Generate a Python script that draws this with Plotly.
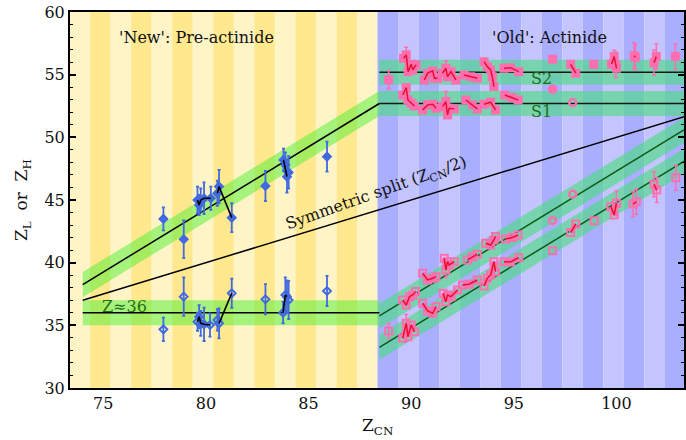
import plotly.graph_objects as go

FONT = "DejaVu Serif"

# ---- axes ----
x_range = [73.38, 103.29]
y_range = [30, 60]
x_ticks = [75, 80, 85, 90, 95, 100]
y_ticks = [30, 35, 40, 45, 50, 55, 60]

# ---- background stripes / regions ----
stripe_first_edge = 73.36
stripe_count = 31
region_boundary = 88.36
yellow_light, yellow_dark = "#fff4c6", "#ffe88e"
blue_light, blue_dark = "#c4c4ff", "#aaaeff"

# ---- model lines ----
model_start = 74.0
model_boundary = 88.45
model_end = 103.8
S1 = 52.7
S2 = 55.2
Z_light_pre = 36.0
band_half = 1.0

# ---- 'New' pre-actinide data (blue) ----
pre_H_x = [77.93, 78.92, 79.59, 79.67, 79.75, 79.91, 80.24, 80.56, 80.64, 81.26, 82.9, 83.78, 83.87, 83.95, 84.03, 85.9]
pre_H_y = [43.49, 41.87, 45.0, 44.6, 45.0, 45.14, 45.14, 45.54, 46.07, 43.59, 46.12, 48.2, 47.8, 46.86, 47.2, 48.46]
pre_H_err = [0.92, 1.5, 1.06, 0.8, 0.93, 1.26, 0.93, 1.0, 1.33, 1.16, 1.2, 0.9, 1.0, 1.26, 1.3, 1.2]
pre_H_chain = [-1, -1, 0, 0, 0, 0, 0, 1, 1, 1, -1, 2, -1, 2, -1, -1]

pre_L_x = [77.93, 78.92, 79.59, 79.67, 79.75, 79.91, 80.2, 80.56, 80.64, 81.26, 82.9, 83.76, 83.87, 83.95, 84.03, 85.9]
pre_L_y = [34.68, 37.29, 35.29, 35.69, 35.16, 35.08, 35.03, 35.43, 35.16, 37.56, 37.08, 36.01, 37.42, 37.29, 37.02, 37.74]
pre_L_err = [0.93, 1.53, 0.73, 0.93, 1.0, 1.33, 0.93, 0.86, 1.2, 1.16, 1.21, 0.86, 1.4, 1.3, 1.53, 1.2]
pre_L_chain = [-1, -1, 0, 0, 0, 0, 0, -1, 1, 1, -1, 2, 2, 2, -1, -1]

# ---- 'Old' actinide data (pink): heavy fragments ----
act_H_x = [89.63, 89.76, 89.85, 90.0, 90.08, 90.24,
           90.64, 90.8, 91.05, 91.13, 91.29,
           91.53, 91.69, 91.77, 91.94, 92.18,
           92.58, 92.9, 93.22,
           93.55, 93.71, 93.87, 93.95, 94.03,
           94.52, 94.84, 95.24,
           89.59, 89.76, 89.84, 90.0, 90.16,
           90.56, 90.8, 91.05, 91.21,
           91.53, 91.69, 91.77, 91.85, 92.1,
           92.66, 92.98, 93.22,
           93.55, 93.87, 94.11,
           94.56, 94.92, 95.21,
           97.77, 98.02,
           99.76, 99.89, 99.97, 100.0,
           100.86, 100.92,
           101.83, 101.94,
           88.9, 96.89, 98.89, 102.87]
act_H_y = [56.31, 56.58, 55.24, 55.83, 55.38, 55.78,
           54.58, 55.12, 55.3, 54.72, 54.72,
           55.12, 55.51, 54.84, 55.24, 54.58,
           54.98, 54.84, 54.72,
           56.04, 55.64, 55.38, 54.84, 54.05,
           55.51, 55.56, 55.24,
           53.38, 53.97, 52.98, 52.72, 52.5,
           52.19, 52.59, 52.64, 52.32,
           52.45, 52.85, 51.79, 52.32, 52.27,
           52.98, 52.59, 52.27,
           52.64, 52.8, 52.19,
           53.38, 53.17, 52.98,
           55.83, 55.12,
           55.86, 56.44, 55.78, 55.51,
           56.5, 56.39,
           55.96, 56.44,
           54.6, 56.23, 55.83, 56.44]
act_H_err = [0, 0.6, 0, 0, 0, 0,
             0, 0, 0, 0, 0,
             0, 0.6, 0, 0, 0,
             0, 0, 0,
             0, 0, 0, 0, 0,
             0, 0, 0,
             0, 0, 0, 0, 0,
             0, 0, 0, 0,
             0, 0.8, 0, 0, 0,
             0, 0, 0,
             0, 0, 0,
             0, 0, 0,
             0, 0,
             0, 0.5, 1.0, 0,
             1.05, 1.0,
             1.0, 1.0,
             0.75, 0, 0, 1.0]
act_H_chain = [1, 1, 1, 1, 1, 1,
               2, 2, 2, 2, 2,
               3, 3, 3, 3, 3,
               4, 4, 4,
               5, 5, 5, 5, 5,
               6, 6, 6,
               7, 7, 7, 7, 7,
               8, 8, 8, 8,
               9, 9, 9, 9, 9,
               10, 10, 10,
               11, 11, 11,
               12, 12, 12,
               13, 13,
               14, 14, 14, 14,
               15, 15,
               16, 16,
               -1, -1, -1, -1]

# ---- 'Old' actinide data (pink): light fragments ----
act_L_x = [89.59, 89.76, 89.92, 90.08, 90.21,
           90.56, 90.8, 91.05, 91.21,
           91.61, 91.69, 91.77, 91.85, 92.1,
           92.74, 92.98, 93.22,
           93.63, 93.87, 94.03, 94.11,
           94.6, 94.92, 95.21,
           89.59, 89.76, 89.84, 90.0, 90.16,
           90.56, 90.8, 91.05, 91.21,
           91.56, 91.69, 91.77, 91.94, 92.26,
           92.5, 92.82, 93.22,
           93.55, 93.71, 93.87, 94.03, 94.11,
           94.52, 94.84, 95.24,
           97.77, 98.02,
           99.73, 99.89, 100.0,
           100.81, 100.97,
           101.83, 101.96,
           88.9, 96.89, 98.91, 102.89]
act_L_y = [37.02, 36.62, 37.29, 37.42, 37.69,
           39.15, 38.62, 38.75, 38.88,
           40.35, 39.42, 40.08, 39.82, 40.08,
           40.22, 40.48, 40.67,
           41.55, 41.41, 41.81, 42.08,
           41.89, 42.0, 42.21,
           33.97, 35.16, 34.09, 35.03, 34.49,
           36.76, 36.15, 35.96, 36.49,
           37.56, 36.89, 37.42, 37.29, 37.82,
           38.22, 38.28, 38.62,
           38.14, 38.75, 39.02, 40.08, 39.28,
           40.08, 40.06, 40.4,
           42.4, 43.09,
           44.47, 43.81, 44.74,
           44.68, 44.87,
           46.25, 45.8,
           34.55, 40.96, 43.35, 46.78]
act_L_err = [0, 0, 0, 0, 0,
             0, 0, 0, 0,
             0, 0.6, 0, 0, 0,
             0, 0, 0,
             0, 0, 0, 0,
             0, 0, 0,
             0, 0.7, 0, 0, 0,
             0, 0, 0, 0,
             0, 0, 0, 0, 0,
             0, 0, 0,
             0, 0, 0, 0, 0,
             0, 0, 0,
             0, 0,
             0, 0, 1.0,
             1.0, 1.0,
             1.0, 1.0,
             0.6, 0, 0, 1.0]
act_L_chain = [1, 1, 1, 1, 1,
               2, 2, 2, 2,
               3, 3, 3, 3, 3,
               4, 4, 4,
               5, 5, 5, 5,
               6, 6, 6,
               7, 7, 7, 7, 7,
               8, 8, 8, 8,
               9, 9, 9, 9, 9,
               10, 10, 10,
               11, 11, 11, 11, 11,
               12, 12, 12,
               13, 13,
               14, 14, 14,
               15, 15,
               16, 16,
               -1, -1, -1, -1]

# isolated circle-marked points
circ_x = [96.89, 97.87, 96.89, 97.87]
circ_y = [53.84, 52.77, 43.35, 45.46]
circ_filled = [True, False, False, False]

# ---- colours ----
BLUE = "#4169e1"
PINK = "#ff6eb0"
RED = "#e8102a"
GREEN_BAND_PRE = "rgba(75,240,52,0.5)"
GREEN_BAND_ACT = "rgba(68,224,122,0.6)"
DARK_GREEN = "#1e6e1e"
LINE_GREEN = "#0d5a16"

fig = go.Figure()

# stripes
shapes = []
for k in range(stripe_count):
    x0 = stripe_first_edge + k
    x1 = x0 + 1
    dark = (k % 2 == 1)
    if x1 <= region_boundary:
        col = yellow_dark if dark else yellow_light
        shapes.append(dict(type="rect", xref="x", yref="y", x0=x0, x1=x1, y0=y_range[0], y1=y_range[1],
                           fillcolor=col, line=dict(width=0), layer="below"))
    else:
        col = blue_dark if dark else blue_light
        shapes.append(dict(type="rect", xref="x", yref="y", x0=max(x0, region_boundary), x1=x1,
                           y0=y_range[0], y1=y_range[1], fillcolor=col, line=dict(width=0), layer="below"))


def band(xa, xb, ya, yb, color):
    fig.add_trace(go.Scatter(x=[xa, xb, xb, xa, xa],
                             y=[ya + band_half, yb + band_half, yb - band_half, ya - band_half, ya + band_half],
                             fill="toself", fillcolor=color, line=dict(width=0), mode="lines",
                             hoverinfo="skip", showlegend=False))


def line(xa, xb, ya, yb, color="black", width=1.5):
    fig.add_trace(go.Scatter(x=[xa, xb], y=[ya, yb], mode="lines", line=dict(color=color, width=width),
                             hoverinfo="skip", showlegend=False))


off_pre = model_boundary - S1
# bands
band(model_start, model_boundary, model_start - off_pre, S1, GREEN_BAND_PRE)
band(model_start, model_boundary, Z_light_pre, Z_light_pre, GREEN_BAND_PRE)
band(model_boundary, model_end, S1, S1, GREEN_BAND_ACT)
band(model_boundary, model_end, S2, S2, GREEN_BAND_ACT)
band(model_boundary, model_end, model_boundary - S1, model_end - S1, GREEN_BAND_ACT)
band(model_boundary, model_end, model_boundary - S2, model_end - S2, GREEN_BAND_ACT)

# lines
line(model_start, model_boundary, model_start - off_pre, S1)
line(model_start, model_boundary, Z_light_pre, Z_light_pre)
line(model_start, model_end, model_start / 2, model_end / 2)
line(model_boundary, model_end, S1, S1, color="#111a11")
line(model_boundary, model_end, S2, S2, color="#111a11")
line(model_boundary, model_end, model_boundary - S1, model_end - S1, color=LINE_GREEN)
line(model_boundary, model_end, model_boundary - S2, model_end - S2, color=LINE_GREEN)


def chains(xs, ys, ids):
    out = {}
    for x, y, c in zip(xs, ys, ids):
        if c < 0:
            continue
        out.setdefault(c, ([], []))
        out[c][0].append(x)
        out[c][1].append(y)
    return out


# blue pre-actinide points
for xs, ys, es, ids, sym in [(pre_H_x, pre_H_y, pre_H_err, pre_H_chain, "diamond"),
                             (pre_L_x, pre_L_y, pre_L_err, pre_L_chain, "diamond-open")]:
    fig.add_trace(go.Scatter(x=xs, y=ys, mode="markers",
                             marker=dict(symbol=sym, size=6, color=BLUE, line=dict(width=2, color=BLUE)),
                             error_y=dict(type="data", array=es, visible=True, color=BLUE, thickness=1.8, width=1.5),
                             hoverinfo="skip", showlegend=False))
    for c, (cx, cy) in chains(xs, ys, ids).items():
        fig.add_trace(go.Scatter(x=cx, y=cy, mode="lines", line=dict(color="black", width=1.6),
                                 hoverinfo="skip", showlegend=False))

# pink actinide points
for xs, ys, es, ids, sym in [(act_H_x, act_H_y, act_H_err, act_H_chain, "square"),
                             (act_L_x, act_L_y, act_L_err, act_L_chain, "square-open")]:
    ex = [x for x, e in zip(xs, es) if e > 0]
    ey = [y for y, e in zip(ys, es) if e > 0]
    ee = [e for e in es if e > 0]
    fig.add_trace(go.Scatter(x=ex, y=ey, mode="markers", marker=dict(size=1, color=PINK, opacity=0),
                             error_y=dict(type="data", array=ee, visible=True, color=PINK, thickness=1.5, width=2),
                             hoverinfo="skip", showlegend=False))
    ch = chains(xs, ys, ids)
    for c, (cx, cy) in ch.items():
        fig.add_trace(go.Scatter(x=cx, y=cy, mode="lines", line=dict(color=PINK, width=5),
                                 hoverinfo="skip", showlegend=False))
    fig.add_trace(go.Scatter(x=xs, y=ys, mode="markers",
                             marker=dict(symbol=sym, size=7, color=PINK, line=dict(width=2, color=PINK)),
                             hoverinfo="skip", showlegend=False))
    for c, (cx, cy) in ch.items():
        fig.add_trace(go.Scatter(x=cx, y=cy, mode="lines", line=dict(color=RED, width=1.5),
                                 hoverinfo="skip", showlegend=False))

fig.add_trace(go.Scatter(x=circ_x, y=circ_y, mode="markers",
                         marker=dict(symbol=["circle" if f else "circle-open" for f in circ_filled], size=7,
                                     color=PINK, line=dict(width=2.5, color=PINK)),
                         hoverinfo="skip", showlegend=False))

ann = [
    dict(x=79.56, y=58.0, text="'New': Pre-actinide", font=dict(size=16, color="#111")),
    dict(x=96.75, y=58.0, text="'Old': Actinide", font=dict(size=16, color="#111")),
    dict(x=96.37, y=54.72, text="S2", font=dict(size=16, color=DARK_GREEN)),
    dict(x=96.37, y=52.05, text="S1", font=dict(size=16, color=DARK_GREEN)),
    dict(x=76.04, y=36.5, text="Z≈36", font=dict(size=16, color=DARK_GREEN)),
    dict(x=88.3, y=45.5, text="Symmetric split (Z<sub>CN</sub>/2)", textangle=-19.5,
         font=dict(size=16, color="#111")),
    dict(xref="paper", yref="paper", x=0.5, y=-0.102, text="Z<sub>CN</sub>", font=dict(size=17, color="#111")),
    dict(xref="paper", yref="paper", x=-0.078, y=0.5, text="Z<sub>L</sub>  or  Z<sub>H</sub>", textangle=-90,
         font=dict(size=17, color="#111")),
]
for a in ann:
    a.setdefault("xref", "x")
    a.setdefault("yref", "y")
    a.update(showarrow=False, xanchor="center", yanchor="middle")

fig.update_layout(
    width=686, height=440,
    margin=dict(l=70, r=0, t=12, b=52),
    paper_bgcolor="white", plot_bgcolor="white",
    font=dict(family=FONT, size=16, color="#111"),
    shapes=shapes, annotations=ann, showlegend=False,
    xaxis=dict(range=x_range, tickvals=x_ticks, ticks="", showgrid=False, zeroline=False,
               showline=True, linecolor="black", linewidth=2, mirror=True,
               tickfont=dict(family=FONT, size=16)),
    yaxis=dict(range=y_range, tickvals=y_ticks, ticks="inside", ticklen=6, tickwidth=1.5, tickcolor="black",
               showgrid=False, zeroline=False, showline=True, linecolor="black", linewidth=2, mirror="allticks",
               minor=dict(dtick=1, ticks="inside", ticklen=3, tickcolor="black", tickwidth=1),
               tickfont=dict(family=FONT, size=16)),
)

# remove the browser's default page margin so the figure sits at the window's top-left corner
fig.write_html("out.html", config={"displayModeBar": False},
               post_script="document.body.style.margin='0';")
